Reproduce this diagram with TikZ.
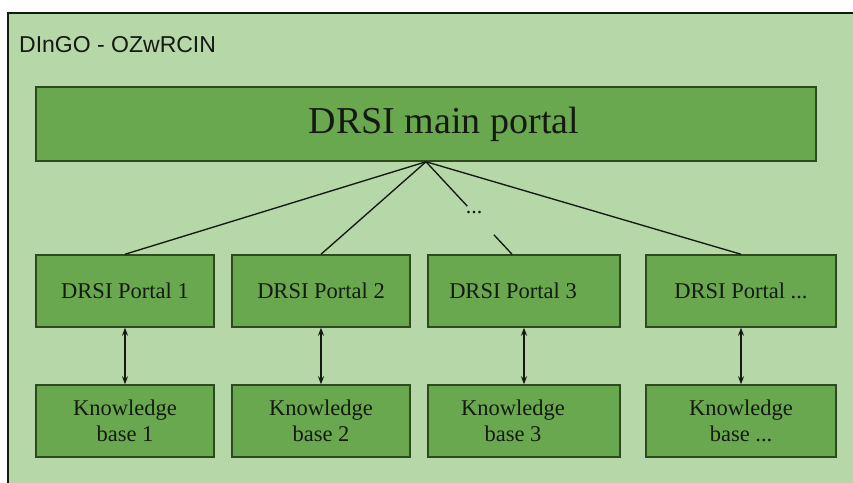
\documentclass[tikz,border=0pt]{standalone}
\usepackage{fontspec}
\setmainfont{Liberation Serif}
\newfontfamily\titlefont{Liberation Sans}
\usetikzlibrary{calc,arrows.meta}
\definecolor{bgc}{HTML}{B6D7A8}
\definecolor{boxc}{HTML}{6AA84F}
\definecolor{bordc}{HTML}{2C4A1E}
\definecolor{inkc}{HTML}{141A12}
\begin{document}
\begin{tikzpicture}[x=1pt,y=-1pt,
  gbox/.style={draw=bordc, line width=1.5pt, fill=boxc, inner sep=0pt, text=inkc},
  portalbox/.style={gbox, minimum height=72pt, font=\fontsize{22.5}{26}\selectfont},
  kbbox/.style={gbox, minimum height=72pt, align=center, font=\fontsize{22.5}{26}\selectfont},
  link/.style={draw=inkc, line width=1.35pt},
  biarrow/.style={draw=inkc, line width=1.2pt, {Stealth[length=8pt,width=6pt]}-{Stealth[length=8pt,width=6pt]}}]
\clip (0,0) rectangle (853,482);
\path[fill=bgc, draw=inkc, line width=1.6pt] (8,13) rectangle (880,510);
\node[anchor=base west, inner sep=0pt, text=inkc, font=\titlefont\fontsize{23}{27}\selectfont] (title) at (19,52) {DInGO - OZwRCIN};
\node[gbox, minimum width=780pt, minimum height=74pt, font=\fontsize{38}{44}\selectfont] (main) at (426,124) {\hspace*{36pt}DRSI main portal};
\node[portalbox, minimum width=178pt] (p1) at (125,291) {DRSI Portal 1};
\node[portalbox, minimum width=178pt] (p2) at (321,291) {DRSI Portal 2};
\node[portalbox, minimum width=192pt] (p3) at (524,291) {DRSI Portal 3\hspace*{22pt}};
\node[portalbox, minimum width=190pt] (p4) at (741,291) {DRSI Portal ...};
\node[kbbox, minimum width=178pt] (kb1) at (125,421) {Knowledge\\base 1};
\node[kbbox, minimum width=178pt] (kb2) at (321,421) {Knowledge\\base 2};
\node[kbbox, minimum width=192pt] (kb3) at (524,421) {Knowledge\hspace*{22pt}\\base 3\hspace*{22pt}};
\node[kbbox, minimum width=190pt] (kb4) at (741,421) {Knowledge\\base ...};
\coordinate (top3) at ($(p3.north)+(-12,0)$);
\path (main.south) -- (top3)
  coordinate[pos=0.48] (gapA)
  coordinate[pos=0.79] (gapB)
  node[pos=0.56, anchor=base, inner sep=0pt, text=inkc, font=\fontsize{22}{26}\selectfont] (dots) {...};
\draw[link] (main.south) -- (p1.north);
\draw[link] (main.south) -- (p2.north);
\draw[link] (main.south) -- (gapA);
\draw[link] (gapB) -- (top3);
\draw[link] (main.south) -- (p4.north);
\draw[biarrow] (p1.south) -- (kb1.north);
\draw[biarrow] (p2.south) -- (kb2.north);
\draw[biarrow] (p3.south) -- (kb3.north);
\draw[biarrow] (p4.south) -- (kb4.north);
\end{tikzpicture}
\end{document}
